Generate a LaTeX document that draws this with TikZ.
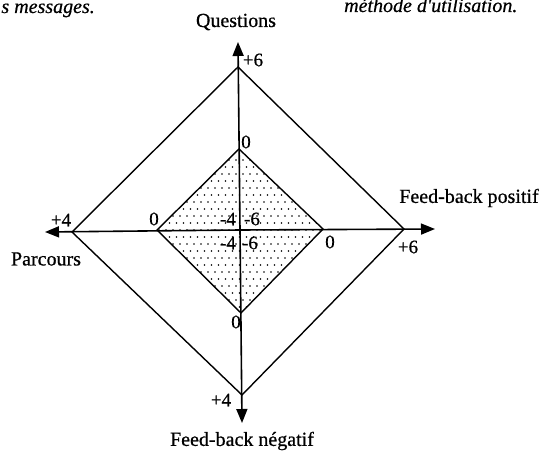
\documentclass[tikz,border=0pt]{standalone}
\usepackage{fontspec}
\setmainfont{Liberation Serif}
\newfontfamily\heavy{Liberation Serif}[FakeBold=0.6]
\newfontfamily\heavyit{Liberation Serif Italic}[FakeBold=0.6]
\usetikzlibrary{arrows.meta}
\begin{document}
\begin{tikzpicture}[x=1pt,y=-1pt,
  lbl/.style={inner sep=0pt,font=\heavy\fontsize{20}{24}\selectfont},
  num/.style={inner sep=0pt,font=\heavy\fontsize{19}{22}\selectfont},
  captext/.style={inner sep=0pt,font=\heavyit\fontsize{20}{24}\selectfont},
  axisline/.style={line width=1.6pt,-{Triangle[length=14pt,width=11pt]}},
  edge/.style={line width=1.4pt,line join=miter}]
\useasboundingbox (0,0) rectangle (544,457);
\fill[white] (0,0) rectangle (544,457);
% key points
\coordinate (O) at (240,230);
\coordinate (tT) at (238,42);
\coordinate (tR) at (435,229);
\coordinate (tB) at (242,423);
\coordinate (tL) at (45,232);
\coordinate (oT) at (238,67);
\coordinate (oR) at (404,229);
\coordinate (oB) at (242,395);
\coordinate (oL) at (72,232);
\coordinate (iT) at (239,149);
\coordinate (iR) at (323,229);
\coordinate (iB) at (241,313);
\coordinate (iL) at (157,230);
% dotted inner diamond
\begin{scope}
\clip (iT) -- (iR) -- (iB) -- (iL) -- cycle;
\foreach \r in {0,...,24}{
  \pgfmathsetmacro{\yy}{146+7*\r}
  \pgfmathsetmacro{\off}{mod(\r,2)*3.5}
  \foreach \c in {0,...,25}{
    \fill ({152+\off+7*\c},\yy) circle (0.9pt);
  }
}
\end{scope}
\draw[edge] (iT) -- (iR) -- (iB) -- (iL) -- cycle;
\draw[edge] (oT) -- (oR) -- (oB) -- (oL) -- cycle;
% axes
\draw[axisline] (O) -- (tT);
\draw[axisline] (O) -- (tR);
\draw[axisline] (O) -- (tB);
\draw[axisline] (O) -- (tL);
% axis titles
\node[lbl] (q) at (236,22) {Questions};
\node[lbl] (fp) at (469,198) {Feed-back positif};
\node[lbl] (pa) at (46,259) {Parcours};
\node[lbl] (fn) at (242,441) {Feed-back négatif};
% numbers
\node[num] (n1) at (253,60) {+6};
\node[num] (n2) at (408,247) {+6};
\node[num] (n3) at (221,400) {+4};
\node[num] (n4) at (61,220) {+4};
\node[num] (z1) at (246,142) {0};
\node[num] (z2) at (330,242) {0};
\node[num] (z3) at (236,322) {0};
\node[num] (z4) at (154,219) {0};
\node[num] (m1) at (228,219) {-4};
\node[num] (m2) at (252,219) {-6};
\node[num] (m3) at (228,243) {-4};
\node[num] (m4) at (250,243) {-6};
% cut-off caption fragments
\node[captext,anchor=base east] (c1) at (95,13) {s messages.};
\node[captext,anchor=base west] (c2) at (344,12) {méthode d'utilisation.};
\end{tikzpicture}
\end{document}
